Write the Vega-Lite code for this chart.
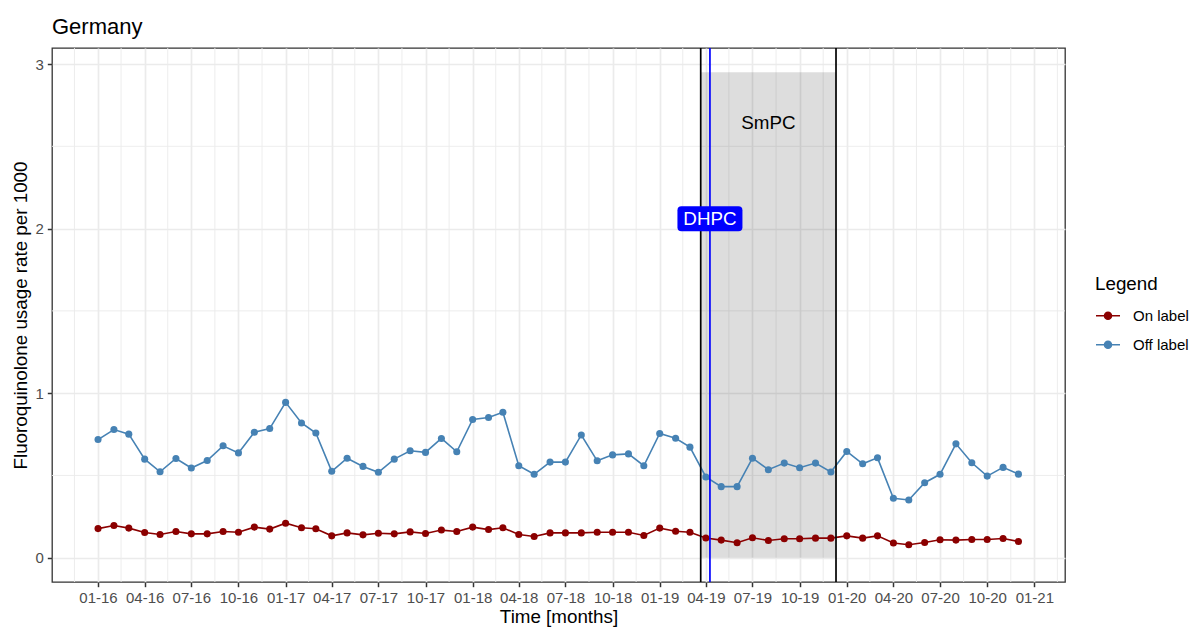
{
  "$schema": "https://vega.github.io/schema/vega-lite/v6.json",
  "width": 1013,
  "height": 534,
  "autosize": {"type": "none"},
  "padding": {"left": 52, "top": 48, "right": 125, "bottom": 46},
  "background": "white",
  "config": {
    "font": "Liberation Sans",
    "view": {"stroke": "#333333", "strokeWidth": 1.3}
  },
  "title": {"text": "Germany", "anchor": "start", "frame": "group", "fontSize": 22, "fontWeight": "normal", "color": "#000000", "baseline": "bottom", "offset": 10, "dy": 24},
  "datasets": {
    "series": [
      {"date": "2016-01-01", "type": "Off label", "rate": 0.718}, {"date": "2016-02-01", "type": "Off label", "rate": 0.779}, {"date": "2016-03-01", "type": "Off label", "rate": 0.751}, {"date": "2016-04-01", "type": "Off label", "rate": 0.599}, {"date": "2016-05-01", "type": "Off label", "rate": 0.522}, {"date": "2016-06-01", "type": "Off label", "rate": 0.603}, {"date": "2016-07-01", "type": "Off label", "rate": 0.545}, {"date": "2016-08-01", "type": "Off label", "rate": 0.591}, {"date": "2016-09-01", "type": "Off label", "rate": 0.680}, {"date": "2016-10-01", "type": "Off label", "rate": 0.637}, {"date": "2016-11-01", "type": "Off label", "rate": 0.763}, {"date": "2016-12-01", "type": "Off label", "rate": 0.785},
      {"date": "2017-01-01", "type": "Off label", "rate": 0.944}, {"date": "2017-02-01", "type": "Off label", "rate": 0.819}, {"date": "2017-03-01", "type": "Off label", "rate": 0.758}, {"date": "2017-04-01", "type": "Off label", "rate": 0.525}, {"date": "2017-05-01", "type": "Off label", "rate": 0.605}, {"date": "2017-06-01", "type": "Off label", "rate": 0.555}, {"date": "2017-07-01", "type": "Off label", "rate": 0.519}, {"date": "2017-08-01", "type": "Off label", "rate": 0.599}, {"date": "2017-09-01", "type": "Off label", "rate": 0.650}, {"date": "2017-10-01", "type": "Off label", "rate": 0.640}, {"date": "2017-11-01", "type": "Off label", "rate": 0.725}, {"date": "2017-12-01", "type": "Off label", "rate": 0.644},
      {"date": "2018-01-01", "type": "Off label", "rate": 0.840}, {"date": "2018-02-01", "type": "Off label", "rate": 0.852}, {"date": "2018-03-01", "type": "Off label", "rate": 0.884}, {"date": "2018-04-01", "type": "Off label", "rate": 0.559}, {"date": "2018-05-01", "type": "Off label", "rate": 0.507}, {"date": "2018-06-01", "type": "Off label", "rate": 0.581}, {"date": "2018-07-01", "type": "Off label", "rate": 0.581}, {"date": "2018-08-01", "type": "Off label", "rate": 0.746}, {"date": "2018-09-01", "type": "Off label", "rate": 0.589}, {"date": "2018-10-01", "type": "Off label", "rate": 0.625}, {"date": "2018-11-01", "type": "Off label", "rate": 0.631}, {"date": "2018-12-01", "type": "Off label", "rate": 0.559},
      {"date": "2019-01-01", "type": "Off label", "rate": 0.755}, {"date": "2019-02-01", "type": "Off label", "rate": 0.726}, {"date": "2019-03-01", "type": "Off label", "rate": 0.672}, {"date": "2019-04-01", "type": "Off label", "rate": 0.491}, {"date": "2019-05-01", "type": "Off label", "rate": 0.432}, {"date": "2019-06-01", "type": "Off label", "rate": 0.432}, {"date": "2019-07-01", "type": "Off label", "rate": 0.605}, {"date": "2019-08-01", "type": "Off label", "rate": 0.535}, {"date": "2019-09-01", "type": "Off label", "rate": 0.575}, {"date": "2019-10-01", "type": "Off label", "rate": 0.547}, {"date": "2019-11-01", "type": "Off label", "rate": 0.575}, {"date": "2019-12-01", "type": "Off label", "rate": 0.521},
      {"date": "2020-01-01", "type": "Off label", "rate": 0.646}, {"date": "2020-02-01", "type": "Off label", "rate": 0.571}, {"date": "2020-03-01", "type": "Off label", "rate": 0.607}, {"date": "2020-04-01", "type": "Off label", "rate": 0.361}, {"date": "2020-05-01", "type": "Off label", "rate": 0.351}, {"date": "2020-06-01", "type": "Off label", "rate": 0.456}, {"date": "2020-07-01", "type": "Off label", "rate": 0.507}, {"date": "2020-08-01", "type": "Off label", "rate": 0.692}, {"date": "2020-09-01", "type": "Off label", "rate": 0.577}, {"date": "2020-10-01", "type": "Off label", "rate": 0.496}, {"date": "2020-11-01", "type": "Off label", "rate": 0.549}, {"date": "2020-12-01", "type": "Off label", "rate": 0.508},
      {"date": "2016-01-01", "type": "On label", "rate": 0.177}, {"date": "2016-02-01", "type": "On label", "rate": 0.196}, {"date": "2016-03-01", "type": "On label", "rate": 0.180}, {"date": "2016-04-01", "type": "On label", "rate": 0.153}, {"date": "2016-05-01", "type": "On label", "rate": 0.141}, {"date": "2016-06-01", "type": "On label", "rate": 0.159}, {"date": "2016-07-01", "type": "On label", "rate": 0.145}, {"date": "2016-08-01", "type": "On label", "rate": 0.145}, {"date": "2016-09-01", "type": "On label", "rate": 0.159}, {"date": "2016-10-01", "type": "On label", "rate": 0.155}, {"date": "2016-11-01", "type": "On label", "rate": 0.186}, {"date": "2016-12-01", "type": "On label", "rate": 0.174},
      {"date": "2017-01-01", "type": "On label", "rate": 0.210}, {"date": "2017-02-01", "type": "On label", "rate": 0.182}, {"date": "2017-03-01", "type": "On label", "rate": 0.176}, {"date": "2017-04-01", "type": "On label", "rate": 0.133}, {"date": "2017-05-01", "type": "On label", "rate": 0.151}, {"date": "2017-06-01", "type": "On label", "rate": 0.139}, {"date": "2017-07-01", "type": "On label", "rate": 0.149}, {"date": "2017-08-01", "type": "On label", "rate": 0.145}, {"date": "2017-09-01", "type": "On label", "rate": 0.157}, {"date": "2017-10-01", "type": "On label", "rate": 0.147}, {"date": "2017-11-01", "type": "On label", "rate": 0.168}, {"date": "2017-12-01", "type": "On label", "rate": 0.159},
      {"date": "2018-01-01", "type": "On label", "rate": 0.186}, {"date": "2018-02-01", "type": "On label", "rate": 0.171}, {"date": "2018-03-01", "type": "On label", "rate": 0.182}, {"date": "2018-04-01", "type": "On label", "rate": 0.141}, {"date": "2018-05-01", "type": "On label", "rate": 0.129}, {"date": "2018-06-01", "type": "On label", "rate": 0.151}, {"date": "2018-07-01", "type": "On label", "rate": 0.151}, {"date": "2018-08-01", "type": "On label", "rate": 0.151}, {"date": "2018-09-01", "type": "On label", "rate": 0.155}, {"date": "2018-10-01", "type": "On label", "rate": 0.155}, {"date": "2018-11-01", "type": "On label", "rate": 0.155}, {"date": "2018-12-01", "type": "On label", "rate": 0.135},
      {"date": "2019-01-01", "type": "On label", "rate": 0.180}, {"date": "2019-02-01", "type": "On label", "rate": 0.161}, {"date": "2019-03-01", "type": "On label", "rate": 0.155}, {"date": "2019-04-01", "type": "On label", "rate": 0.120}, {"date": "2019-05-01", "type": "On label", "rate": 0.107}, {"date": "2019-06-01", "type": "On label", "rate": 0.091}, {"date": "2019-07-01", "type": "On label", "rate": 0.121}, {"date": "2019-08-01", "type": "On label", "rate": 0.105}, {"date": "2019-09-01", "type": "On label", "rate": 0.115}, {"date": "2019-10-01", "type": "On label", "rate": 0.115}, {"date": "2019-11-01", "type": "On label", "rate": 0.119}, {"date": "2019-12-01", "type": "On label", "rate": 0.119},
      {"date": "2020-01-01", "type": "On label", "rate": 0.133}, {"date": "2020-02-01", "type": "On label", "rate": 0.119}, {"date": "2020-03-01", "type": "On label", "rate": 0.133}, {"date": "2020-04-01", "type": "On label", "rate": 0.089}, {"date": "2020-05-01", "type": "On label", "rate": 0.079}, {"date": "2020-06-01", "type": "On label", "rate": 0.093}, {"date": "2020-07-01", "type": "On label", "rate": 0.109}, {"date": "2020-08-01", "type": "On label", "rate": 0.107}, {"date": "2020-09-01", "type": "On label", "rate": 0.111}, {"date": "2020-10-01", "type": "On label", "rate": 0.111}, {"date": "2020-11-01", "type": "On label", "rate": 0.117}, {"date": "2020-12-01", "type": "On label", "rate": 0.099}
    ],
    "minorx": [
      {"date": "2015-11-16"}, {"date": "2016-02-15"}, {"date": "2016-05-16"}, {"date": "2016-08-16"}, {"date": "2016-11-16"},
      {"date": "2017-02-15"}, {"date": "2017-05-16"}, {"date": "2017-08-16"}, {"date": "2017-11-16"},
      {"date": "2018-02-15"}, {"date": "2018-05-16"}, {"date": "2018-08-16"}, {"date": "2018-11-16"},
      {"date": "2019-02-15"}, {"date": "2019-05-16"}, {"date": "2019-08-16"}, {"date": "2019-11-16"},
      {"date": "2020-02-15"}, {"date": "2020-05-16"}, {"date": "2020-08-16"}, {"date": "2020-11-16"},
      {"date": "2021-02-15"}
    ],
    "minory": [{"rate": 0.5}, {"rate": 1.5}, {"rate": 2.5}],
    "window": [{"date": "2019-03-22", "end": "2019-12-11", "rate": 0, "hi": 2.95}],
    "smpc": [{"date": "2019-08-01", "rate": 2.64, "label": "SmPC"}],
    "events": [{"date": "2019-03-22", "event": "start"}, {"date": "2019-12-11", "event": "end"}],
    "dhpcline": [{"date": "2019-04-09", "event": "DHPC"}],
    "dhpc": [{"date": "2019-04-09", "rate": 2.06, "label": "DHPC"}]
  },
  "layer": [
    {
      "data": {"name": "minorx"},
      "mark": {"type": "rule", "color": "#EBEBEB", "strokeWidth": 0.9},
      "encoding": {"x": {"field": "date", "type": "temporal", "title": "Time [months]"}}
    },
    {
      "data": {"name": "minory"},
      "mark": {"type": "rule", "color": "#EBEBEB", "strokeWidth": 0.9},
      "encoding": {"y": {"field": "rate", "type": "quantitative", "title": "Fluoroquinolone usage rate per 1000"}}
    },
    {
      "encoding": {
        "x": {
          "field": "date", "type": "temporal", "title": "Time [months]",
          "scale": {"type": "utc", "domain": [1443844800000, 1614628800000], "nice": false},
          "axis": {
            "values": [1451606400000, 1459468800000, 1467331200000, 1475280000000, 1483228800000, 1491004800000, 1498867200000, 1506816000000, 1514764800000, 1522540800000, 1530403200000, 1538352000000, 1546300800000, 1554076800000, 1561939200000, 1569888000000, 1577836800000, 1585699200000, 1593561600000, 1601510400000, 1609459200000],
            "labelExpr": "utcFormat(datum.value, '%m-%y')",
            "labelOverlap": false, "labelFlush": false,
            "labelFontSize": 15, "labelColor": "#4D4D4D", "labelPadding": 4,
            "tickColor": "#333333", "tickSize": 4.7, "tickWidth": 1.5,
            "grid": true, "gridColor": "#EBEBEB", "gridWidth": 1.7,
            "domain": false,
            "titleFontSize": 18.8, "titleFontWeight": "normal", "titleColor": "#000000", "titlePadding": 2
          }
        },
        "y": {
          "field": "rate", "type": "quantitative", "title": "Fluoroquinolone usage rate per 1000",
          "scale": {"domain": [-0.1475, 3.0975], "nice": false, "zero": false},
          "axis": {
            "values": [0, 1, 2, 3],
            "format": "d",
            "labelOverlap": false, "labelFlush": false,
            "labelFontSize": 15, "labelColor": "#4D4D4D", "labelPadding": 4,
            "tickColor": "#333333", "tickSize": 4.7, "tickWidth": 1.5,
            "grid": true, "gridColor": "#EBEBEB", "gridWidth": 1.7,
            "domain": false,
            "titleFontSize": 18.8, "titleFontWeight": "normal", "titleColor": "#000000", "titlePadding": 4
          }
        }
      },
      "layer": [
        {
          "data": {"name": "window"},
          "mark": {"type": "rect", "fill": "#000000", "fillOpacity": 0.135},
          "encoding": {"x2": {"field": "end"}, "y2": {"field": "hi"}}
        },
        {
          "data": {"name": "series"},
          "mark": {"type": "line", "strokeWidth": 1.6},
          "encoding": {
            "color": {
              "field": "type", "type": "nominal",
              "scale": {"domain": ["On label", "Off label"], "range": ["#8B0000", "#4682B4"]},
              "legend": {
                "title": "Legend", "orient": "none", "legendX": 1043, "legendY": 227, "padding": 0,
                "titleFontSize": 18.8, "titleFontWeight": "normal", "titleColor": "#000000", "titlePadding": 9,
                "labelFontSize": 15, "labelColor": "#000000", "labelOffset": 12,
                "rowPadding": 8,
                "symbolType": "M-1,0H1M-0.29,0A0.29,0.29,0,1,0,0.29,0A0.29,0.29,0,1,0,-0.29,0Z",
                "symbolSize": 576, "symbolStrokeWidth": 1.6,
                "encode": {"symbols": {"update": {"fill": {"scale": "color", "field": "value"}, "stroke": {"scale": "color", "field": "value"}, "opacity": {"value": 1}, "fillOpacity": {"value": 1}}}}
              }
            }
          }
        },
        {
          "data": {"name": "series"},
          "mark": {"type": "point", "filled": true, "size": 50, "opacity": 1},
          "encoding": {"color": {"field": "type", "type": "nominal"}}
        },
        {
          "data": {"name": "smpc"},
          "mark": {"type": "text", "fontSize": 18.8, "color": "#000000", "align": "center", "baseline": "middle"},
          "encoding": {"text": {"field": "label"}}
        }
      ]
    },
    {
      "data": {"name": "events"},
      "mark": {"type": "rule", "color": "#000000", "strokeWidth": 1.7},
      "encoding": {"x": {"field": "date", "type": "temporal", "title": "Time [months]"}}
    },
    {
      "data": {"name": "dhpcline"},
      "mark": {"type": "rule", "color": "#0000FF", "strokeWidth": 1.7},
      "encoding": {"x": {"field": "date", "type": "temporal", "title": "Time [months]"}}
    },
    {
      "data": {"name": "dhpc"},
      "encoding": {
        "x": {"field": "date", "type": "temporal", "title": "Time [months]"},
        "y": {"field": "rate", "type": "quantitative", "title": "Fluoroquinolone usage rate per 1000"}
      },
      "layer": [
        {
          "mark": {"type": "point", "filled": true, "fill": "#0000FF", "opacity": 1, "strokeWidth": 0, "size": 4225,
                   "shape": "M-0.877,-0.385H0.877Q1,-0.385,1,-0.262V0.262Q1,0.385,0.877,0.385H-0.877Q-1,0.385,-1,0.262V-0.262Q-1,-0.385,-0.877,-0.385Z"}
        },
        {
          "mark": {"type": "text", "fontSize": 18.8, "color": "#FFFFFF", "align": "center", "baseline": "middle"},
          "encoding": {"text": {"field": "label"}}
        }
      ]
    }
  ]
}
